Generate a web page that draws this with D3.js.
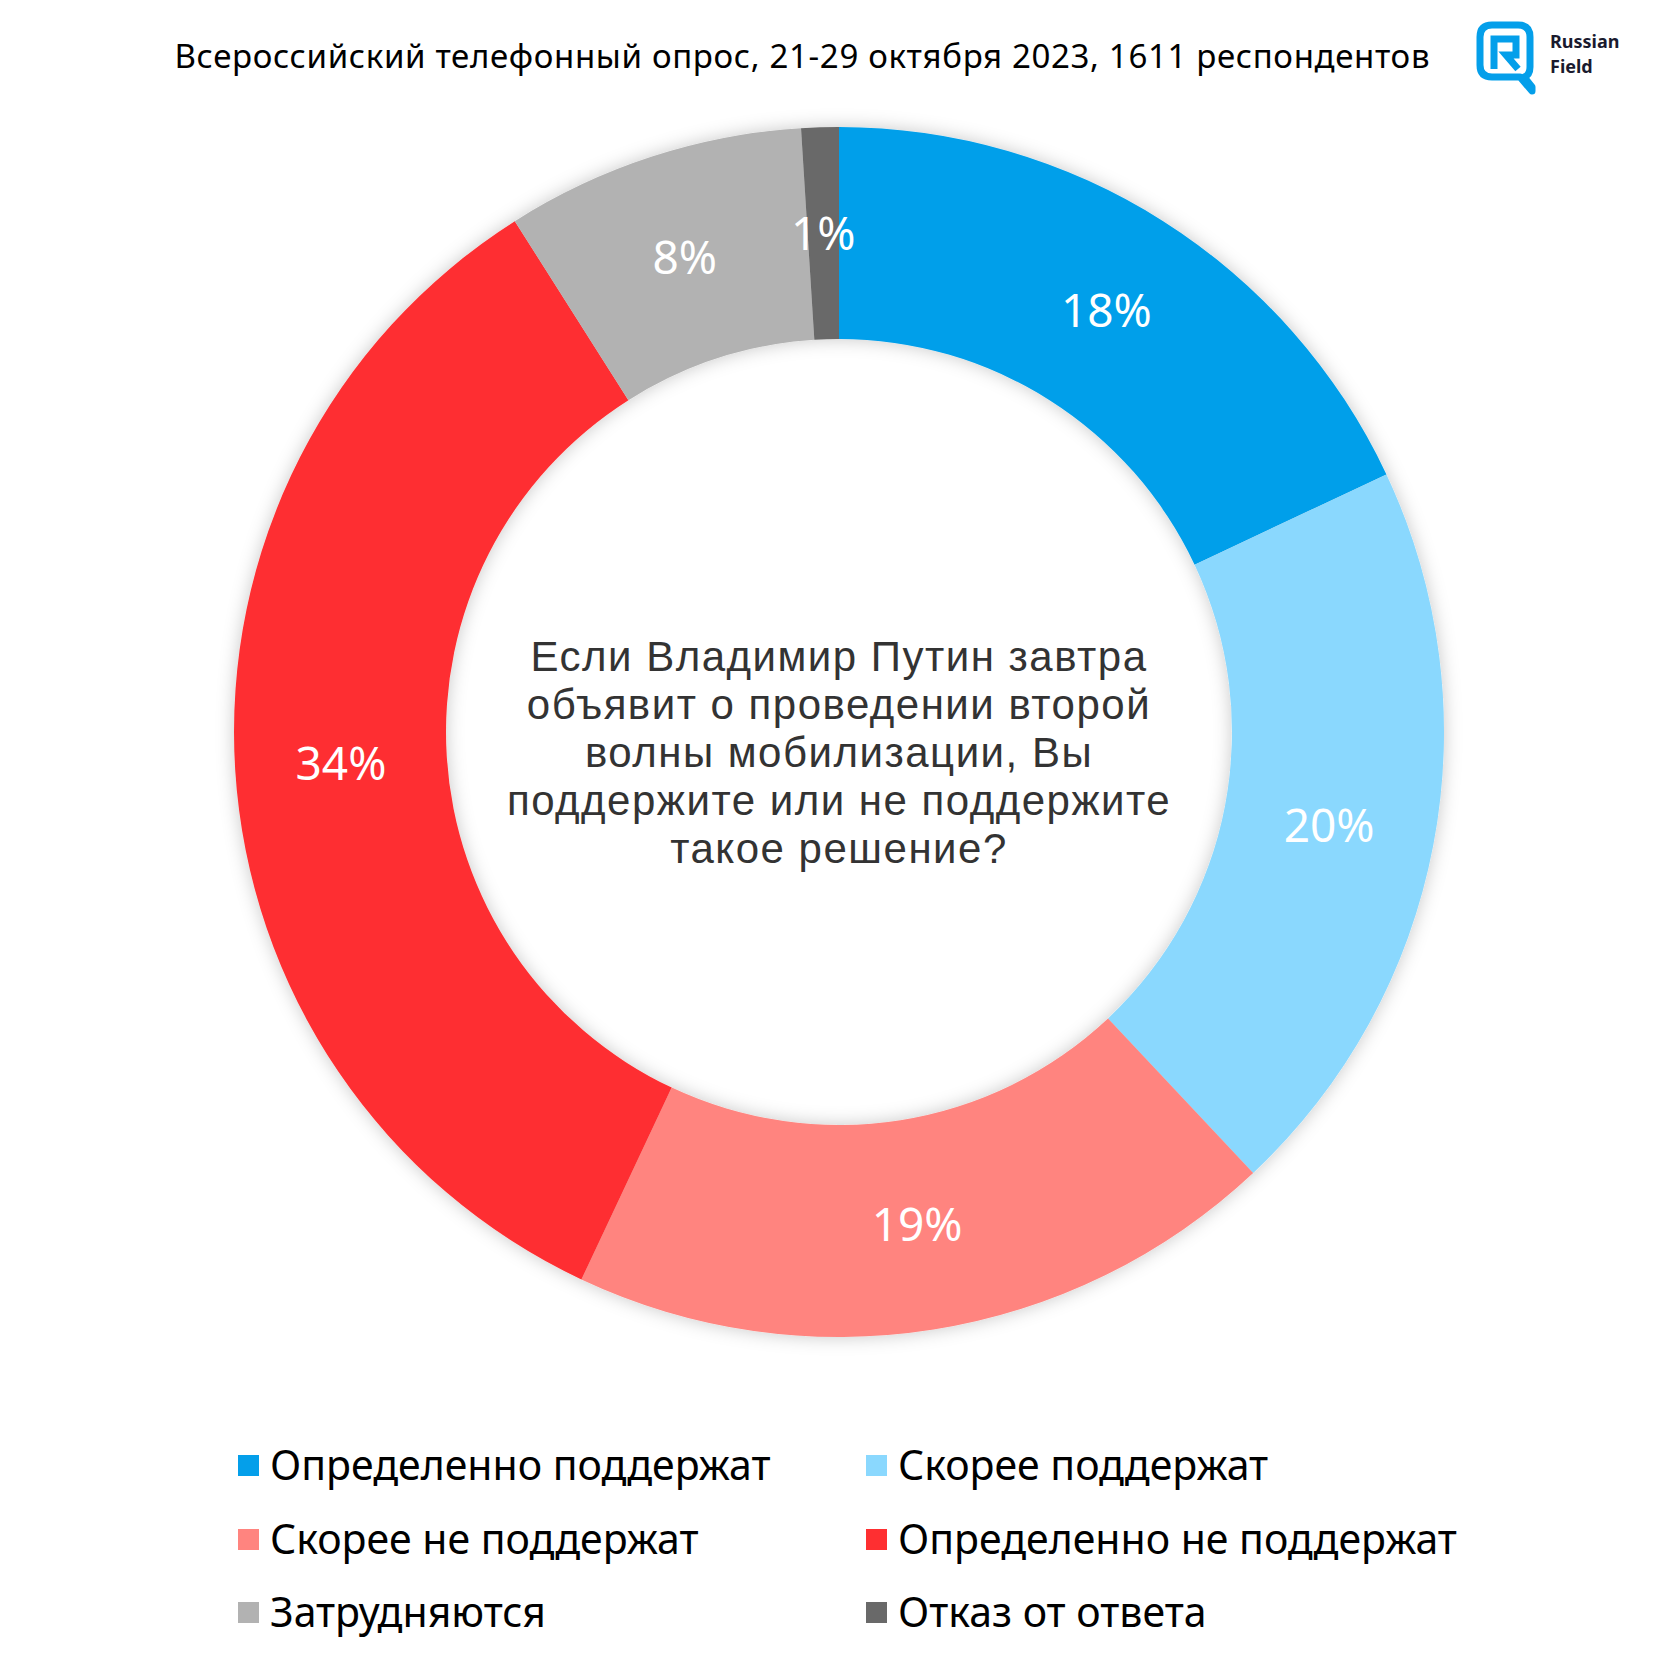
<!DOCTYPE html>
<html>
<head>
<meta charset="utf-8">
<script src="https://cdn.jsdelivr.net/npm/d3@7"></script>
<style>
  body { margin: 0; background: #fff; }
  svg { display: block; font-family: "Noto Sans", sans-serif; }
</style>
</head>
<body>
<div class="container"></div>
<script>
const categories = ["Определенно поддержат", "Скорее поддержат", "Скорее не поддержат",
                    "Определенно не поддержат", "Затрудняются", "Отказ от ответа"];
const values = [18, 20, 19, 34, 8, 1];
const colors = ["#049fea", "#8ad8fe", "#ff847f", "#fe2f31", "#b2b2b2", "#696969"];
const title = "Всероссийский телефонный опрос, 21-29 октября 2023, 1611 респондентов";
const question = ["Если Владимир Путин завтра", "объявит о проведении второй",
                  "волны мобилизации, Вы", "поддержите или не поддержите", "такое решение?"];

const w = 1680, h = 1680;
const cx = 839, cy = 732;
const outerR = 605, innerR = 393;

const svg = d3.select(".container").append("svg")
  .attr("width", w).attr("height", h);

const defs = svg.append("defs");
const f = defs.append("filter").attr("id", "shadow")
  .attr("x", "-10%").attr("y", "-10%").attr("width", "120%").attr("height", "120%");
f.append("feDropShadow").attr("dx", 0).attr("dy", 0)
  .attr("stdDeviation", 9).attr("flood-color", "#000").attr("flood-opacity", 0.22);

// title
svg.append("text")
  .attr("x", 802).attr("y", 68)
  .attr("text-anchor", "middle")
  .attr("font-size", 33)
  .attr("fill", "#000")
  .attr("textLength", 1255)
  .text(title);

// logo
const logo = svg.append("g").attr("transform", "translate(1476,21)");
logo.append("path")
  .attr("d", "M4,16 Q4,4 16,4 L42,4 Q54,4 54,16 L54,46 Q54,54 48,56 L56,66 L56,70 L44,56 L16,56 Q4,56 4,44 Z")
  .attr("fill", "none").attr("stroke", "#049fea").attr("stroke-width", 7).attr("stroke-linejoin", "round");
logo.append("path")
  .attr("d", "M18,48 L18,18 L40,18 L40,34 L30,34 L42,48")
  .attr("fill", "none").attr("stroke", "#049fea").attr("stroke-width", 7);
logo.append("text").attr("x", 74).attr("y", 27)
  .attr("font-size", 18).attr("font-weight", "bold").attr("fill", "#1a1a2e").text("Russian");
logo.append("text").attr("x", 74).attr("y", 52)
  .attr("font-size", 18).attr("font-weight", "bold").attr("fill", "#1a1a2e").text("Field");

// donut
const pie = d3.pie().sort(null).value(d => d);
const arcs = pie(values);
const arc = d3.arc().innerRadius(innerR).outerRadius(outerR);
const labelArc = d3.arc().innerRadius((innerR + outerR) / 2).outerRadius((innerR + outerR) / 2);

const g = svg.append("g").attr("transform", "translate(" + cx + "," + cy + ")");

g.append("g").attr("filter", "url(#shadow)")
  .selectAll("path")
  .data(arcs)
  .enter()
  .append("path")
  .attr("d", arc)
  .attr("fill", (d, i) => colors[i]);

g.selectAll(".lbl")
  .data(arcs)
  .enter()
  .append("text")
  .attr("class", "lbl")
  .attr("transform", d => "translate(" + labelArc.centroid(d) + ")")
  .attr("text-anchor", "middle")
  .attr("dy", "0.36em")
  .attr("font-size", 46)
  .attr("fill", "#fff")
  .text(d => d.data + "%");

// question in the middle, one text per line
g.selectAll(".q")
  .data(question)
  .enter()
  .append("text")
  .attr("class", "q")
  .attr("x", 0)
  .attr("y", (d, i) => -61 + i * 48)
  .attr("text-anchor", "middle")
  .attr("font-family", "'Liberation Sans', Arial, sans-serif")
  .attr("font-size", 42)
  .attr("letter-spacing", 1.5)
  .attr("fill", "#333")
  .text(d => d);

// legend
const legend = svg.append("g").attr("id", "legend");
const cols = [238, 866];
const rows = [1466, 1540, 1613];
categories.forEach((c, i) => {
  const x = cols[i % 2];
  const y = rows[Math.floor(i / 2)];
  legend.append("rect")
    .attr("x", x).attr("y", y - 11)
    .attr("width", 21).attr("height", 21)
    .attr("fill", colors[i]);
  legend.append("text")
    .attr("x", x + 32).attr("y", y + 14)
    .attr("font-size", 41)
    .attr("fill", "#000")
    .text(c);
});
</script>
</body>
</html>
